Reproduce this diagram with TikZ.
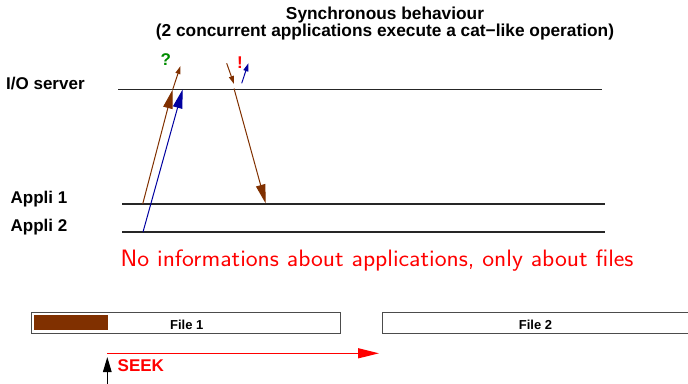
\documentclass[tikz,border=0pt]{standalone}
\usepackage{fontspec}
\newfontfamily\arialfont{Liberation Sans}
\usetikzlibrary{arrows.meta}
\definecolor{msgbrown}{RGB}{128,48,0}
\definecolor{msgblue}{RGB}{0,0,160}
\definecolor{qgreen}{RGB}{0,140,0}
\begin{document}
\begin{tikzpicture}[x=1pt,y=-1pt,
  title/.style={font=\arialfont\bfseries\fontsize{17.3}{20}\selectfont, inner sep=0, anchor=base},
  lbl/.style={font=\arialfont\bfseries\fontsize{17}{20}\selectfont, inner sep=0, anchor=base west},
  sym/.style={font=\arialfont\bfseries\fontsize{17}{20}\selectfont, inner sep=0, anchor=base},
  flabel/.style={font=\arialfont\bfseries\fontsize{13}{15}\selectfont, inner sep=0, anchor=base},
  timeline/.style={line width=1.3pt, draw=black!85},
  filebox/.style={draw=black!70, line width=1pt, inner sep=0, minimum height=21pt},
  msg/.style={line width=1pt},
  bigtip/.style={-{Triangle[length=19pt,width=9.5pt]}},
  smalltip/.style={-{Triangle[length=8pt,width=5pt]}}
]
\useasboundingbox (0,0) rectangle (688,383);

% title
\node[title] (t1) at (385,19.5) {Synchronous behaviour};
\node[title] (t2) at (385,36) {(2 concurrent applications execute a cat−like operation)};

% time lines
\node[lbl] (io) at (6,89) {I/O server};
\node[lbl] (ap1) at (10.5,203.5) {Appli 1};
\node[lbl] (ap2) at (10.5,231.5) {Appli 2};
\coordinate (iol) at (118,89.3);  \coordinate (ior) at (602,89.3);
\coordinate (a1l) at (122,204);   \coordinate (a1r) at (605,204);
\coordinate (a2l) at (122,232);   \coordinate (a2r) at (605,232);
\draw[timeline] (iol) -- (ior);
\draw[timeline] (a1l) -- (a1r);
\draw[timeline] (a2l) -- (a2r);

% messages
\coordinate (b1s) at (142.7,204);   \coordinate (b1m) at (172.7,89.5); \coordinate (b1e) at (180.5,66);
\coordinate (u1s) at (143,232);     \coordinate (u1m) at (182.7,89.3);
\coordinate (r1s) at (226.7,63.3);  \coordinate (r1m) at (234,84);
\coordinate (r2s) at (234,88.5);    \coordinate (r2e) at (265.7,203.5);
\coordinate (u2s) at (241.7,83.3);  \coordinate (u2e) at (248.3,63.3);

\draw[msg, msgbrown, bigtip] (b1s) -- (b1m);
\draw[msg, msgbrown, smalltip] (b1m) -- (b1e);
\draw[msg, msgblue, bigtip] (u1s) -- (u1m);
\draw[msg, msgbrown, smalltip] (r1s) -- (r1m);
\draw[msg, msgbrown, bigtip] (r2s) -- (r2e);
\draw[msg, msgblue, smalltip] (u2s) -- (u2e);

\node[sym, text=qgreen] (q) at (165.7,65) {?};
\node[sym, text=red] (ex) at (240,68.3) {!};

% remark
\node[font=\sffamily\fontsize{23.7}{28}\selectfont, text=red, inner sep=0, anchor=base west] (note) at (120.5,266.5) {\scalebox{1.064}[1]{No informations about applications, only about files}};

% files
\node[filebox, minimum width=309.7pt] (f1) at (185.9,322.5) {};
\node[filebox, minimum width=306.7pt] (f2) at (535.6,322.5) {};
\node[fill=msgbrown, minimum width=74pt, minimum height=14.7pt, inner sep=0, anchor=north west] (done) at (34,315) {};
\node[flabel] (f1l) at (186.7,329.3) {File 1};
\node[flabel] (f2l) at (535.5,329.3) {File 2};

% seek
\coordinate (sks) at (107.3,353.3); \coordinate (ske) at (379,353.3);
\draw[line width=1.3pt, red, -{Triangle[length=21pt,width=10pt]}] (sks) -- (ske);
\node[lbl, text=red] (seek) at (117.5,371) {SEEK};
\coordinate (ptrs) at (107.3,386); \coordinate (ptre) at (107.3,357);
\draw[line width=1.3pt, black, -{Triangle[length=15pt,width=8.5pt]}] (ptrs) -- (ptre);
\end{tikzpicture}
\end{document}
